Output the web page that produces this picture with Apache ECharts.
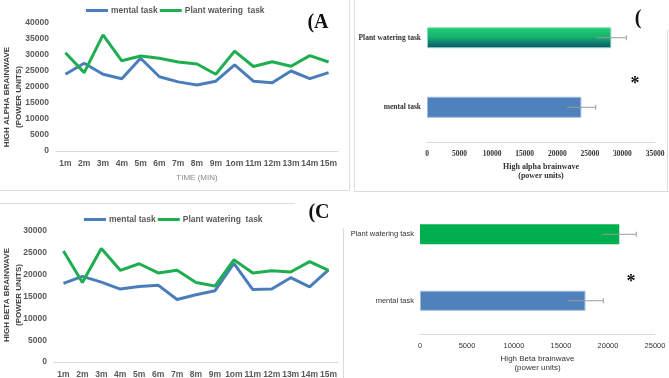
<!DOCTYPE html>
<html>
<head>
<meta charset="utf-8">
<script src="https://cdn.jsdelivr.net/npm/echarts@6/dist/echarts.min.js"></script>
<style>
html, body { margin: 0; padding: 0; background: #fff; }
#chart { width: 669px; height: 378px; }
</style>
</head>
<body>
<div id="chart"></div>
<script>
// 时间轴标签 (原图 10m 写成 1om)
var time_labels = ['1m', '2m', '3m', '4m', '5m', '6m', '7m', '8m', '9m', '1om', '11m', '12m', '13m', '14m', '15m'];
// (A) high alpha
var alpha_mental = [24000, 27400, 24000, 22600, 29000, 23200, 21600, 20600, 21800, 26900, 21800, 21300, 25000, 22600, 24500];
var alpha_plant = [30700, 24500, 36300, 28200, 29700, 29000, 27800, 27200, 24000, 31200, 26400, 27900, 26500, 29800, 27800];
// (C) high beta
var beta_mental = [18000, 19600, 18300, 16700, 17300, 17600, 14300, 15400, 16300, 22600, 16600, 16700, 19300, 17200, 21100];
var beta_plant = [25400, 18200, 26000, 21000, 22500, 20400, 21000, 18200, 17400, 23400, 20400, 20900, 20600, 23000, 21000];
// 柱状图 均值和误差
var bar_categories = ['mental task', 'Plant watering task'];
var alpha_means = [23700, 28300];
var alpha_errors = [2200, 2300];
var beta_means = [17600, 21200];
var beta_errors = [1900, 1800];
var alpha_ticks_max = 35000;
var beta_ticks_max = 25000;

var blue = '#4a7ebb';
var green = '#1fae4f';
var sans = '"Liberation Sans", Arial, sans-serif';
var serif = '"Liberation Serif", "Times New Roman", serif';

function plainNum(v) { return String(v); }

//误差线
function errorBarItem(params, api) {
	var val = api.value(0), cat = api.value(1), err = api.value(2);
	var lo = api.coord([val - err, cat]);
	var hi = api.coord([val + err, cat]);
	return {
		type: 'group',
		children: [
			{ type: 'line', shape: { x1: lo[0], y1: lo[1], x2: hi[0], y2: hi[1] }, style: { stroke: '#9a9a9a', lineWidth: 1 } },
			{ type: 'line', shape: { x1: hi[0], y1: hi[1] - 2.5, x2: hi[0], y2: hi[1] + 2.5 }, style: { stroke: '#9a9a9a', lineWidth: 1 } }
		]
	};
}
function errorData(means, errs) {
	var out = [];
	for (var i = 0; i < means.length; i++) out.push([means[i], i, errs[i]]);
	return out;
}

function lineXAxis(gridIndex, name) {
	return {
		type: 'category', gridIndex: gridIndex, data: time_labels, boundaryGap: true,
		axisLine: { lineStyle: { color: '#d9d9d9' } }, axisTick: { show: false },
		axisLabel: { color: '#595959', fontFamily: sans, fontWeight: 'bold', fontSize: 8.5, margin: 8, interval: 0 },
		name: name, nameLocation: 'middle', nameGap: 23,
		nameTextStyle: { color: '#8a8a8a', fontFamily: sans, fontSize: 8 }
	};
}
function lineYAxis(gridIndex, max) {
	return {
		type: 'value', gridIndex: gridIndex, min: 0, max: max, interval: 5000,
		axisLine: { show: false }, axisTick: { show: false }, splitLine: { show: false },
		axisLabel: { color: '#595959', fontFamily: sans, fontWeight: 'bold', fontSize: 8.5, margin: 7, formatter: plainNum }
	};
}
function barXAxis(gridIndex, max, name, font, bold) {
	return {
		type: 'value', gridIndex: gridIndex, min: 0, max: max, interval: 5000,
		axisLine: { show: true, lineStyle: { color: '#d9d9d9' } }, axisTick: { show: false }, splitLine: { show: false },
		axisLabel: { color: '#333', fontFamily: font, fontWeight: bold, fontSize: 7.5, margin: 8, formatter: plainNum },
		name: name, nameLocation: 'middle', nameGap: 20,
		nameTextStyle: { color: '#333', fontFamily: font, fontWeight: bold, fontSize: 8, lineHeight: 9 }
	};
}
function barYAxis(gridIndex, font, bold) {
	return {
		type: 'category', gridIndex: gridIndex, data: bar_categories,
		axisLine: { show: false }, axisTick: { show: false },
		axisLabel: { color: '#333', fontFamily: font, fontWeight: bold, fontSize: 7.5, margin: 6 }
	};
}
function legendAt(top, left) {
	return {
		top: top, left: left, itemWidth: 22, itemHeight: 3, itemGap: 2, icon: 'rect',
		data: ['mental task', 'Plant watering  task'],
		textStyle: { color: '#595959', fontFamily: sans, fontWeight: 'bold', fontSize: 8.5, padding: [0, 0, 0, -2] }
	};
}
function sideText(x, y, txt, size) {
	return { type: 'text', x: x, y: y, style: { text: txt, fill: '#111', font: 'bold ' + size + 'px ' + serif, align: 'center', verticalAlign: 'middle' } };
}
//竖排坐标轴标题
function yTitle(x, y, txt) {
	return { type: 'text', x: x, y: y, rotation: Math.PI / 2, style: { text: txt, fill: '#404040', font: 'bold 8px ' + sans, lineHeight: 12, align: 'center', verticalAlign: 'middle' } };
}
function frameLine(x1, y1, x2, y2) {
	return { type: 'line', shape: { x1: x1, y1: y1, x2: x2, y2: y2 }, style: { stroke: '#dcdcdc', lineWidth: 1 }, silent: true };
}

var chart = echarts.init(document.getElementById('chart'));
var plant_gradient = new echarts.graphic.LinearGradient(0, 0, 0, 1, [
	{ offset: 0, color: '#1ccf6e' },
	{ offset: 0.45, color: '#17b36f' },
	{ offset: 1, color: '#0b4f6d' }
]);
var option = {
	animation: false,
	grid: [
		{ left: 56, top: 23, width: 282, height: 128, outerBoundsMode: 'none' },
		{ left: 427, top: 3, width: 228, height: 139, outerBoundsMode: 'none' },
		{ left: 54, top: 231, width: 284, height: 131, outerBoundsMode: 'none' },
		{ left: 420, top: 201, width: 235, height: 133, outerBoundsMode: 'none' }
	],
	legend: [legendAt(1, 81), legendAt(210, 79)],
	xAxis: [
		lineXAxis(0, 'TIME (MIN)'),
		barXAxis(1, alpha_ticks_max, 'High alpha brainwave\n(power units)', serif, 'bold'),
		lineXAxis(2, ''),
		barXAxis(3, beta_ticks_max, 'High Beta brainwave\n(power units)', sans, 'normal')
	],
	yAxis: [
		lineYAxis(0, 40000),
		barYAxis(1, serif, 'bold'),
		lineYAxis(2, 30000),
		barYAxis(3, sans, 'normal')
	],
	series: [
		{ name: 'mental task', type: 'line', xAxisIndex: 0, yAxisIndex: 0, data: alpha_mental, showSymbol: false, lineStyle: { width: 3, color: blue }, itemStyle: { color: blue } },
		{ name: 'Plant watering  task', type: 'line', xAxisIndex: 0, yAxisIndex: 0, data: alpha_plant, showSymbol: false, lineStyle: { width: 3, color: green }, itemStyle: { color: green } },
		{ name: 'mental task', type: 'line', xAxisIndex: 2, yAxisIndex: 2, data: beta_mental, showSymbol: false, lineStyle: { width: 3, color: blue }, itemStyle: { color: blue } },
		{ name: 'Plant watering  task', type: 'line', xAxisIndex: 2, yAxisIndex: 2, data: beta_plant, showSymbol: false, lineStyle: { width: 3, color: green }, itemStyle: { color: green } },
		{
			name: 'alpha mean', type: 'bar', xAxisIndex: 1, yAxisIndex: 1, barWidth: 21,
			data: [
				{ value: alpha_means[0], itemStyle: { color: '#4f81bd', borderColor: '#9dbbe0', borderWidth: 1 } },
				{ value: alpha_means[1], itemStyle: { color: plant_gradient, borderColor: '#8fd9c0', borderWidth: 1 } }
			]
		},
		{ name: 'alpha err', type: 'custom', xAxisIndex: 1, yAxisIndex: 1, renderItem: errorBarItem, encode: { x: 0, y: 1 }, data: errorData(alpha_means, alpha_errors), z: 5 },
		{
			name: 'beta mean', type: 'bar', xAxisIndex: 3, yAxisIndex: 3, barWidth: 20,
			data: [
				{ value: beta_means[0], itemStyle: { color: '#4f81bd', borderColor: '#9dbbe0', borderWidth: 1 } },
				{ value: beta_means[1], itemStyle: { color: '#00b050' } }
			]
		},
		{ name: 'beta err', type: 'custom', xAxisIndex: 3, yAxisIndex: 3, renderItem: errorBarItem, encode: { x: 0, y: 1 }, data: errorData(beta_means, beta_errors), z: 5 }
	],
	graphic: [
		frameLine(349.5, 0, 349.5, 190),
		frameLine(354.5, 0, 354.5, 190),
		frameLine(667.5, 30, 667.5, 190),
		frameLine(0, 190.5, 350, 190.5),
		frameLine(354, 191.5, 669, 191.5),
		frameLine(0, 203.5, 295, 203.5),
		frameLine(343.5, 228, 343.5, 378),
		yTitle(13, 97, 'HIGH ALPHA BRAINWAVE\n(POWER UNITS)'),
		yTitle(13, 295, 'HIGH BETA BRAINWAVE\n(POWER UNITS)'),
		sideText(318, 23, '(A', 20),
		sideText(638, 19, '(', 20),
		sideText(319, 213, '(C', 20),
		sideText(635, 84, '*', 18),
		sideText(631, 282, '*', 18)
	]
};
chart.setOption(option);
</script>
</body>
</html>
